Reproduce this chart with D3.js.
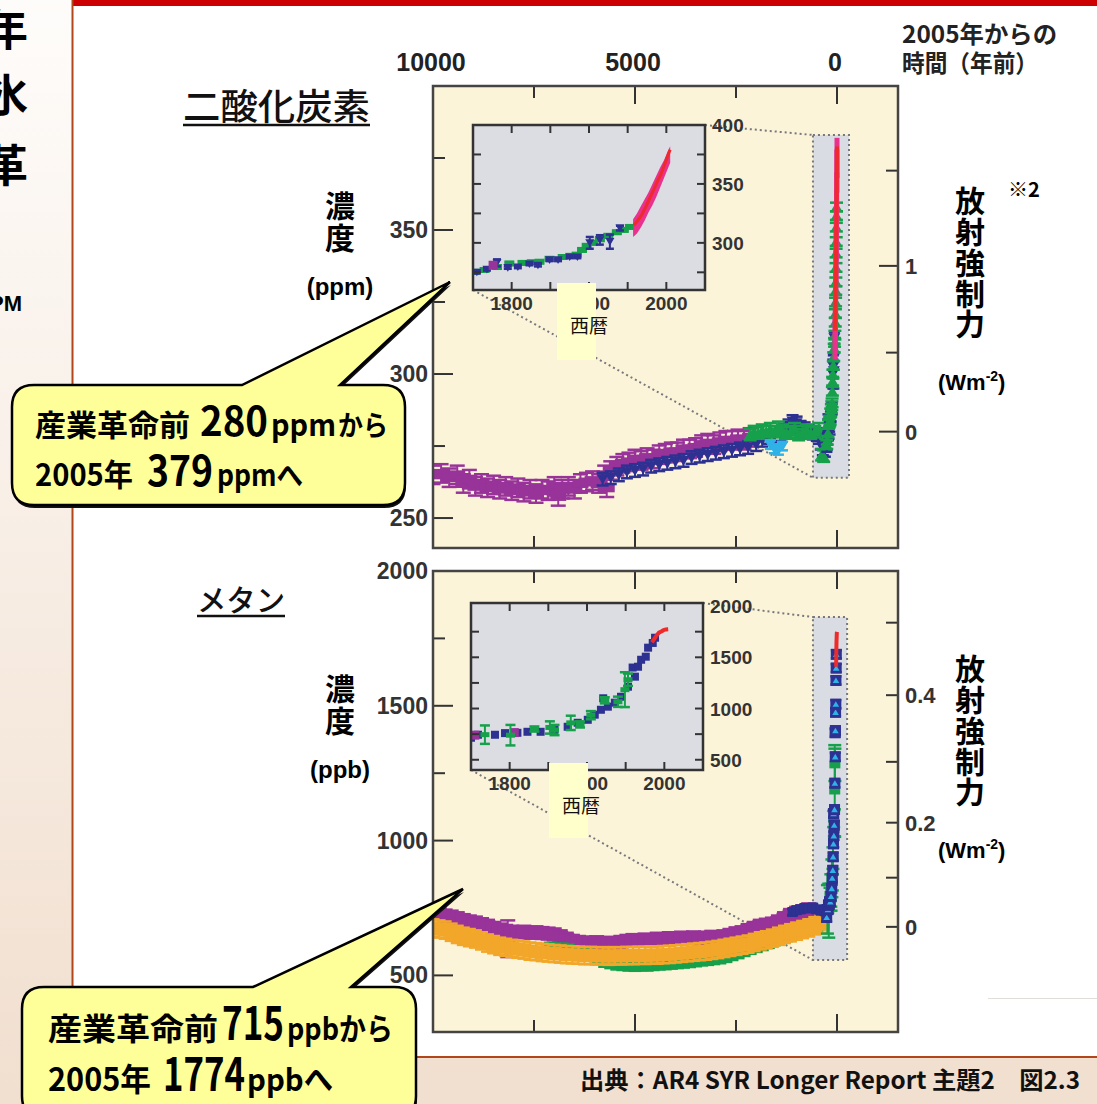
<!DOCTYPE html>
<html>
<head>
<meta charset="utf-8">
<script src="https://cdn.jsdelivr.net/npm/d3@7"></script>
<style>
  html, body { margin: 0; padding: 0; background: #fff; }
  svg { display: block; }
</style>
</head>
<body>
<svg id="chart" width="1097" height="1104"></svg>
<script>
// ---------- data: ice-core and atmospheric records ----------
// main panels: [years before 2005, value, optional error]
const co2Purple = [[10000,265],[9800,265.5],[9600,264],[9400,265],[9250,262],[9100,263.5],[8950,261],[8800,262],[8650,260.5],[8500,261.5],[8350,260],[8200,261],[8050,259.5],[7900,260.5],[7750,259],[7600,260],[7450,258.5],[7300,260],[7150,259.5],[7000,261],[6900,257.5],[6800,260],[6650,261],[6500,260],[6350,262],[6200,262.5],[6050,263],[5900,262],[5750,265],[5700,260.5],[5600,266.5],[5450,268],[5300,269],[5150,269.5],[5000,270.5],[4850,270],[4700,271],[4550,270.5],[4400,272],[4250,272.5],[4100,273],[3950,273],[3800,274],[3650,274],[3500,274.5],[3350,275.5],[3200,276],[3050,275.5],[2900,276.5],[2750,277],[2600,277],[2450,277.5],[2300,277],[2150,278]];
const co2Blue = [[5800,263.5],[5600,264],[5400,265],[5200,266],[5000,266.5],[4800,267],[4600,268],[4400,268.5],[4200,269],[4000,269.5],[3800,270],[3600,271],[3400,271.5],[3200,272],[3000,272.5],[2800,273],[2600,273.5],[2400,274],[2200,274.5],[2000,275.5],[1850,277],[1700,278],[1550,278.5],[1400,279],[1300,280.5],[1200,282],[1100,283.5],[1000,283],[900,281.5],[800,281],[700,280],[600,279.5],[500,279],[450,278],[400,276],[350,274],[300,273.5],[250,276]];
const co2Green = [[2150,279],[2050,280],[1950,279.5],[1850,280.5],[1750,280],[1650,281],[1550,280],[1450,281.5],[1350,280.5],[1250,279.5],[1150,280],[1050,281],[950,279],[850,280],[750,280.5],[650,279.5],[550,280],[450,281],[380,272],[330,271.5],[280,275.5]];
const co2Cyan = [[1650,275.5],[1550,274],[1450,273.5],[1350,275]];

const ch4Purple = [[10000,730],[9850,728],[9700,722],[9550,718],[9400,712],[9250,705],[9100,700],[8950,696],[8800,690],[8650,684],[8500,676],[8350,670],[8200,665],[8150,636,68],[8050,662],[7900,660],[7750,662],[7600,658],[7450,660],[7300,657],[7150,655],[7000,652],[6850,645],[6700,636],[6550,628],[6400,624],[6250,622],[6100,620],[5950,623],[5800,618],[5650,621],[5500,619],[5350,624],[5200,628],[5050,631],[4900,629],[4750,633],[4600,630],[4450,636],[4300,634],[4150,638],[4000,636],[3850,640],[3700,638],[3550,641],[3400,637],[3250,640],[3100,643],[2950,641],[2800,645],[2650,650],[2500,656],[2350,660],[2200,668],[2050,676],[1900,684],[1750,688],[1600,692],[1450,700],[1300,712],[1150,724],[1000,732],[850,738],[700,745]];
const ch4Orange = [[10000,676],[9850,672],[9700,668],[9550,660],[9400,652],[9250,645],[9100,640],[8950,635],[8800,628],[8650,620],[8500,614],[8350,608],[8200,604],[8050,600],[7900,597],[7750,594],[7600,590],[7450,588],[7300,585],[7150,583],[7000,581],[6850,579],[6700,577],[6550,576],[6400,575],[6250,573],[6100,574],[5950,572],[5800,573],[5650,571],[5500,573],[5350,572],[5200,574],[5050,573],[4900,575],[4750,574],[4600,576],[4450,575],[4300,577],[4150,578],[4000,580],[3850,582],[3700,584],[3550,586],[3400,588],[3250,590],[3100,593],[2950,596],[2800,600],[2650,604],[2500,608],[2350,612],[2200,616],[2050,622],[1900,628],[1750,632],[1600,638],[1450,645],[1300,652],[1150,658],[1000,664],[850,670],[700,676],[550,684],[400,690]];
const ch4Green = [[7100,603],[6950,598],[6800,600],[6650,596],[6500,590],[6350,585],[6200,580],[6050,572],[5900,560],[5750,550],[5600,545],[5450,540],[5300,538],[5150,536],[5000,535],[4850,537],[4700,536],[4550,538],[4400,540],[4250,541],[4100,543],[3950,545],[3800,547],[3650,549],[3500,552],[3350,555],[3200,557],[3050,560],[2900,563],[2750,568],[2600,575],[2450,582],[2300,590],[2150,598],[2000,605],[1850,612],[1700,620],[1550,630],[1400,638],[1250,645],[1100,652],[950,660],[800,668],[650,676],[500,684],[350,690]];
const ch4Blue = [[1100,735],[1000,742],[900,745],[800,750],[700,748],[600,752],[500,745],[400,740],[300,738]];

// insets and recent records: [calendar year, value, optional error]
const co2InsetGreen = [[1752,275.5],[1765,277],[1781,279.5],[1797,282.5],[1814,283],[1826,283.5],[1836,284],[1849,286.5],[1866,288],[1876,289],[1884,290],[1891,294],[1897,297.5],[1905,300],[1914,303],[1925,306],[1936,309],[1945,311],[1953,313.5]];
const co2InsetBlue = [[1755,275],[1768,277.5],[1781,283,3],[1795,279],[1808,279.5],[1823,282],[1834,281],[1849,285.5],[1860,285.5],[1875,288],[1885,288],[1901,300,5],[1914,302.5,4],[1927,301,6],[1940,312.5,2]];
const co2InsetPurple = [[1776,281]];
const co2Firn = [[1962,318],[1966,321],[1970,325],[1974,329],[1977,332],[1980,337],[1983,342],[1986,346],[1989,351],[1991,355],[1993,358]];
const co2Atmos = [[1958,315],[1963,319],[1968,323.5],[1973,330],[1978,337],[1983,344],[1988,351.5],[1993,358],[1998,367],[2003,376],[2005,379]];
const co2AtmosRange = [[1957,305,320],[1962,308,325],[1967,313,331],[1972,319,337],[1977,326,343],[1982,332,350],[1987,339,357],[1992,347,364],[1997,355,370],[2002,363,378],[2005,368,382]];

const ch4InsetBlue = [[1750,715],[1759,744],[1781,744],[1794,760],[1810,763],[1823,773],[1840,773],[1858,793],[1875,822],[1888,861],[1901,890],[1910,940],[1918,988],[1921,1100],[1927,1018],[1936,1057],[1944,1115],[1953,1213],[1959,1400],[1962,1311],[1966,1408],[1970,1476],[1976,1506],[1979,1594],[1985,1640],[1988,1691]];
const ch4InsetGreen = [[1768,745,90],[1801,740,100],[1832,800,25],[1852,815,60],[1858,790,50],[1879,860,70],[1891,845,30],[1905,935,40],[1923,1080,30],[1940,1066,50],[1949,1184,170],[1953,1281,60]];
const ch4InsetPurple = [[1755,740],[1806,765]];
const ch4Atmos = [[1984,1645],[1987,1680],[1990,1714],[1993,1740],[1996,1752],[1999,1765],[2002,1772],[2005,1774]];

// ---------- axis ticks and labels ----------
const refYear = 2005;
const ageTicks = [7500, 5000, 2500, 0];
const ageLabels = [10000, 5000, 0];
const co2Ticks = [250, 275, 300, 325, 350, 375];
const co2Labels = [250, 300, 350];
const co2ForcingTicks = [0, 0.5, 1, 1.5];
const co2ForcingLabels = [0, 1];
const ch4Ticks = [500, 750, 1000, 1250, 1500, 1750];
const ch4Labels = [500, 1000, 1500, 2000];
const ch4ForcingTicks = [0, 0.1, 0.2, 0.3, 0.4, 0.5];
const ch4ForcingLabels = [0, 0.2, 0.4];
const insetYearTicks = [1800, 1850, 1900, 1950, 2000];
const insetYearLabels = [1800, 1900, 2000];
const co2InsetTicks = [275, 300, 325, 350, 375];
const co2InsetLabels = [300, 350, 400];
const ch4InsetTicks = [500, 750, 1000, 1250, 1500, 1750];
const ch4InsetLabels = [500, 1000, 1500, 2000];

// ---------- palette ----------
const C = {
  purple: '#98339a', blue: '#2c3192', green: '#17a04c', cyan: '#2fb2e8',
  orange: '#f2a72a', red: '#ee2a2a', pink: '#e9318d',
  cream: '#fcf4d8', insetBg: '#dcdde2', boxBg: '#d9dce3', axis: '#333'
};
const JP = '"Noto Sans CJK JP", sans-serif';
const LAT = '"Liberation Sans", Arial, sans-serif';

const svg = d3.select('#chart');
const defs = svg.append('defs');

// ---------- slide background ----------
const grad = defs.append('linearGradient').attr('id', 'side')
  .attr('x1', 0).attr('y1', 0).attr('x2', 0).attr('y2', 1);
grad.append('stop').attr('offset', '0%').attr('stop-color', '#fefcfa');
grad.append('stop').attr('offset', '100%').attr('stop-color', '#f1dfcf');
svg.append('rect').attr('width', 1097).attr('height', 1104).attr('fill', '#fff');
svg.append('rect').attr('x', 0).attr('y', 0).attr('width', 72).attr('height', 1104).attr('fill', 'url(#side)');
svg.append('rect').attr('x', 72).attr('y', 1057).attr('width', 1025).attr('height', 47).attr('fill', '#f1dfcf');
svg.append('rect').attr('x', 72).attr('y', 0).attr('width', 1025).attr('height', 6).attr('fill', '#cc0000');
svg.append('line').attr('x1', 72.5).attr('x2', 72.5).attr('y1', 0).attr('y2', 1057).attr('stroke', '#b0461a').attr('stroke-width', 2);
svg.append('line').attr('x1', 72).attr('x2', 1097).attr('y1', 1057).attr('y2', 1057).attr('stroke', '#b0461a').attr('stroke-width', 2);
svg.append('line').attr('x1', 988).attr('x2', 1097).attr('y1', 998.5).attr('y2', 998.5).attr('stroke', '#e2ddd8').attr('stroke-width', 1);

function txt(parent, x, y, s, o = {}) {
  const t = parent.append('text').attr('x', x).attr('y', y).text(s)
    .attr('font-family', o.family || LAT)
    .attr('font-size', o.size || 20)
    .attr('font-weight', o.weight || 'normal')
    .attr('fill', o.fill || '#000')
    .attr('text-anchor', o.anchor || 'start');
  if (o.len) t.attr('textLength', o.len).attr('lengthAdjust', 'spacingAndGlyphs');
  return t;
}
// one text element holding several positioned runs: [x0, x1, baseline, string, size]
function runs(parent, segs, o = {}) {
  const t = parent.append('text').attr('font-family', o.family || JP)
    .attr('font-weight', o.weight || 'bold').attr('fill', o.fill || '#000');
  segs.forEach(sg => t.append('tspan').attr('x', sg[0]).attr('y', sg[2])
    .attr('font-size', sg[4]).attr('textLength', sg[1] - sg[0])
    .attr('lengthAdjust', 'spacingAndGlyphs').text(sg[3]));
  return t;
}
// a column of upright Japanese characters, top at y
function vtxt(parent, x, y, s, size, len) {
  const t = parent.append('text').attr('x', x).attr('y', y).text(s)
    .attr('font-family', JP).attr('font-size', size).attr('font-weight', 'bold')
    .style('writing-mode', 'vertical-rl').style('text-orientation', 'upright');
  if (len) t.attr('textLength', len).attr('lengthAdjust', 'spacing');
  return t;
}

// partially visible side-slide text
txt(svg, 28, 46, '年', { family: JP, size: 44, weight: 'bold', anchor: 'end' });
txt(svg, 28, 112, '氷', { family: JP, size: 44, weight: 'bold', anchor: 'end' });
txt(svg, 28, 182, '革', { family: JP, size: 44, weight: 'bold', anchor: 'end' });
txt(svg, 22, 311, 'PPM', { size: 22, weight: 'bold', anchor: 'end' });

// ---------- scales ----------
const xAge = d3.scaleLinear().domain([10000, -1510]).range([433, 898]);
const yCO2 = d3.scaleLinear().domain([239.6, 400]).range([548, 86]);
const yCH4 = d3.scaleLinear().domain([290, 2000]).range([1032, 571]);
const co2FromForcing = f => 280 * Math.exp(f / 5.35);
const ch4FromForcing = f => Math.pow(Math.sqrt(680) + f / 0.0304, 2);

const xInCO2 = d3.scaleLinear().domain([1750, 2050]).range([473, 705]);
const yInCO2 = d3.scaleLinear().domain([260, 400]).range([290, 125]);
const xInCH4 = d3.scaleLinear().domain([1750, 2050]).range([471, 703]);
const yInCH4 = d3.scaleLinear().domain([400, 2030]).range([770, 603]);

const toAge = d => [refYear - d[0], d[1], d[2]];

// ---------- marker drawing ----------
function plotSeries(g, rows, xf, yf, s) {
  const gg = g.append('g').attr('fill', s.color).attr('stroke', s.color);
  const pts = gg.selectAll('g').data(rows).join('g');
  pts.each(function (d) {
    const node = d3.select(this);
    const cx = xf(d[0]), cy = yf(d[1]);
    const e = d[2] !== undefined ? d[2] : s.err;
    if (e > 0) {
      const a = yf(d[1] + e), b = yf(d[1] - e);
      node.append('line').attr('x1', cx).attr('x2', cx).attr('y1', a).attr('y2', b).attr('stroke-width', s.lw || 2);
      [a, b].forEach(yy => node.append('line')
        .attr('x1', cx - s.cap / 2).attr('x2', cx + s.cap / 2).attr('y1', yy).attr('y2', yy)
        .attr('stroke-width', s.capW || 2.5));
    }
    const k = s.size || 4;
    if (s.shape === 'bar') {
      node.append('rect').attr('x', cx - s.w / 2).attr('y', cy - s.h / 2)
        .attr('width', s.w).attr('height', s.h).attr('stroke', 'none');
    } else if (s.shape === 'sq') {
      node.append('rect').attr('x', cx - k).attr('y', cy - k).attr('width', 2 * k).attr('height', 2 * k).attr('stroke', 'none');
    } else if (s.shape === 'tdown') {
      node.append('path').attr('stroke', 'none')
        .attr('d', `M${cx - k},${cy - k * 0.8}L${cx + k},${cy - k * 0.8}L${cx},${cy + k * 0.9}Z`);
    } else if (s.shape === 'tup') {
      node.append('path').attr('stroke', 'none')
        .attr('d', `M${cx - k},${cy + k * 0.8}L${cx + k},${cy + k * 0.8}L${cx},${cy - k * 0.9}Z`);
    }
    if (s.inner) {
      const m = k * 0.6;
      node.append('path').attr('stroke', 'none').attr('fill', s.inner)
        .attr('d', `M${cx - m},${cy + m * 0.8}L${cx + m},${cy + m * 0.8}L${cx},${cy - m * 0.9}Z`);
    }
  });
}

// ---------- main panel ----------
function mainPanel(cfg) {
  const { y0, y1, yScale } = cfg;
  const x0 = 433, x1 = 898;
  const g = svg.append('g');
  g.append('rect').attr('x', x0).attr('y', y0).attr('width', x1 - x0).attr('height', y1 - y0).attr('fill', C.cream);

  const clipId = 'clip' + y0;
  defs.append('clipPath').attr('id', clipId).append('rect')
    .attr('x', x0).attr('y', y0).attr('width', x1 - x0).attr('height', y1 - y0);

  // magnified window and its connectors to the inset
  const bx0 = xAge(cfg.box.t0), bx1 = xAge(cfg.box.t1);
  const by0 = yScale(cfg.box.v1), by1 = yScale(cfg.box.v0);
  const ins = cfg.inset;
  const dotted = sel => sel.attr('stroke', '#77787c').attr('stroke-width', 2).attr('stroke-dasharray', '2,3').attr('fill', 'none');
  g.append('line').attr('x1', ins.x1).attr('y1', ins.y0).attr('x2', bx0).attr('y2', by0).call(dotted);
  g.append('line').attr('x1', ins.x0).attr('y1', ins.y1).attr('x2', bx0).attr('y2', by1).call(dotted);
  g.append('rect').attr('x', bx0).attr('y', by0).attr('width', bx1 - bx0).attr('height', by1 - by0)
    .call(dotted).attr('fill', C.boxBg);

  const dg = g.append('g').attr('clip-path', `url(#${clipId})`);
  cfg.drawData(dg);

  // ticks
  const tk = g.append('g').attr('stroke', C.axis).attr('stroke-width', 2);
  ageTicks.forEach(t => {
    const x = xAge(t), len = t % 5000 === 0 ? 18 : 12;
    tk.append('line').attr('x1', x).attr('x2', x).attr('y1', y0).attr('y2', y0 + len);
    tk.append('line').attr('x1', x).attr('x2', x).attr('y1', y1).attr('y2', y1 - len);
  });
  cfg.leftTicks.forEach(v => {
    const y = yScale(v), len = cfg.leftLabels.includes(v) ? 20 : 12;
    tk.append('line').attr('x1', x0).attr('x2', x0 + len).attr('y1', y).attr('y2', y);
  });
  cfg.rightTicks.forEach(f => {
    const y = yScale(cfg.fromForcing(f));
    const len = cfg.rightLong && cfg.rightLabels.includes(f) ? 19 : 12;
    tk.append('line').attr('x1', x1 - len).attr('x2', x1).attr('y1', y).attr('y2', y);
  });

  // labels
  cfg.leftLabels.forEach(v => txt(g, 428, yScale(v) + 8, String(v),
    { size: 23, weight: 'bold', fill: '#333', anchor: 'end' }));
  cfg.rightLabels.forEach(f => txt(g, 905, yScale(cfg.fromForcing(f)) + 8, String(f),
    { size: 22, weight: 'bold', fill: '#333' }));

  // frame
  g.append('rect').attr('x', x0).attr('y', y0).attr('width', x1 - x0).attr('height', y1 - y0)
    .attr('fill', 'none').attr('stroke', '#444').attr('stroke-width', 2.5);
  return g;
}

// ---------- inset panel ----------
function insetPanel(cfg) {
  const { x0, x1, y0, y1, xs, ys } = cfg;
  const g = svg.append('g');
  g.append('rect').attr('x', x0).attr('y', y0).attr('width', x1 - x0).attr('height', y1 - y0).attr('fill', C.insetBg);
  const clipId = 'iclip' + y0;
  defs.append('clipPath').attr('id', clipId).append('rect')
    .attr('x', x0).attr('y', y0).attr('width', x1 - x0).attr('height', y1 - y0);
  cfg.drawData(g.append('g').attr('clip-path', `url(#${clipId})`));

  const tk = g.append('g').attr('stroke', C.axis).attr('stroke-width', 2);
  insetYearTicks.forEach(t => {
    const x = xs(t);
    tk.append('line').attr('x1', x).attr('x2', x).attr('y1', y0).attr('y2', y0 + 8);
    tk.append('line').attr('x1', x).attr('x2', x).attr('y1', y1).attr('y2', y1 - 8);
  });
  cfg.yTicks.forEach(v => {
    const y = ys(v);
    tk.append('line').attr('x1', x0).attr('x2', x0 + 8).attr('y1', y).attr('y2', y);
    tk.append('line').attr('x1', x1).attr('x2', x1 - 8).attr('y1', y).attr('y2', y);
  });
  g.append('rect').attr('x', x0).attr('y', y0).attr('width', x1 - x0).attr('height', y1 - y0)
    .attr('fill', 'none').attr('stroke', '#333').attr('stroke-width', 2.5);

  insetYearLabels.forEach(t => txt(g, xs(t), y1 + 20, String(t),
    { size: 19, weight: 'bold', fill: '#333', anchor: 'middle' }));
  cfg.yLabels.forEach(v => txt(g, x1 + 7, Math.max(ys(v), y0) + 7, String(v),
    { size: 19, weight: 'bold', fill: '#333' }));

  // calendar-year caption box
  g.append('rect').attr('x', cfg.cap.x).attr('y', y1 - 7).attr('width', 39).attr('height', cfg.cap.h).attr('fill', '#ffffcc');
  txt(g, cfg.cap.x + 13, y1 + 43, '西暦', { family: JP, size: 19, fill: '#111' });
  return g;
}

// ---------- styles ----------
const S = {
  co2Purple: { color: C.purple, shape: 'bar', w: 16, h: 9, err: 3.2, cap: 15 },
  co2Blue: { color: C.blue, shape: 'tdown', size: 6, err: 2.2, cap: 12 },
  co2Green: { color: C.green, shape: 'tup', size: 6, err: 2, cap: 13 },
  co2Cyan: { color: C.cyan, shape: 'tdown', size: 6, err: 1.5, cap: 11 },
  co2SpikeGreen: { color: C.green, shape: 'tup', size: 6, err: 1.5, cap: 13 },
  co2SpikeBlue: { color: C.blue, shape: 'tdown', size: 6, err: 2, cap: 11 },
  co2InGreen: { color: C.green, shape: 'bar', w: 10, h: 6, err: 1.2, cap: 9 },
  co2InBlue: { color: C.blue, shape: 'tdown', size: 4.5, err: 1, cap: 8 },
  co2InPurple: { color: C.purple, shape: 'sq', size: 4.5, err: 0, cap: 0 },
  ch4Purple: { color: C.purple, shape: 'bar', w: 16, h: 11, err: 22, cap: 15 },
  ch4Orange: { color: C.orange, shape: 'bar', w: 15, h: 13, err: 32, cap: 13 },
  ch4Green: { color: C.green, shape: 'bar', w: 13, h: 8, err: 18, cap: 13 },
  ch4Blue: { color: C.blue, shape: 'sq', size: 5, err: 12, cap: 11 },
  ch4SpikeBlue: { color: C.blue, shape: 'sq', size: 5.5, err: 15, cap: 11, inner: C.cyan },
  ch4SpikeGreen: { color: C.green, shape: 'bar', w: 11, h: 7, err: 22, cap: 13 },
  ch4InBlue: { color: C.blue, shape: 'sq', size: 4, err: 0, cap: 0 },
  ch4InGreen: { color: C.green, shape: 'bar', w: 9, h: 5, err: 20, cap: 10 },
  ch4InPurple: { color: C.purple, shape: 'sq', size: 4.5, err: 0, cap: 0 }
};

// ---------- CO2 ----------
const co2InsetBox = { x0: 473, x1: 705, y0: 125, y1: 290 };
mainPanel({
  y0: 86, y1: 548, yScale: yCO2,
  box: { t0: 595, t1: -297, v0: 264, v1: 383 },
  inset: co2InsetBox,
  leftTicks: co2Ticks, leftLabels: co2Labels,
  rightTicks: co2ForcingTicks, rightLabels: co2ForcingLabels, rightLong: true,
  fromForcing: co2FromForcing,
  drawData: g => {
    plotSeries(g, co2Purple, xAge, yCO2, S.co2Purple);
    plotSeries(g, co2Blue, xAge, yCO2, S.co2Blue);
    plotSeries(g, co2Green, xAge, yCO2, S.co2Green);
    plotSeries(g, co2Cyan, xAge, yCO2, S.co2Cyan);
    plotSeries(g, co2InsetBlue.map(toAge), xAge, yCO2, S.co2SpikeBlue);
    plotSeries(g, co2InsetGreen.map(toAge), xAge, yCO2, S.co2SpikeGreen);
    plotSeries(g, co2Firn.map(toAge), xAge, yCO2, S.co2SpikeGreen);
    g.append('g').selectAll('line').data(co2AtmosRange).join('line')
      .attr('x1', d => xAge(refYear - d[0])).attr('x2', d => xAge(refYear - d[0]))
      .attr('y1', d => yCO2(d[1])).attr('y2', d => yCO2(d[2]))
      .attr('stroke', C.pink).attr('stroke-width', 5);
    g.append('path').datum(co2Atmos)
      .attr('d', d3.line().x(d => xAge(refYear - d[0])).y(d => yCO2(d[1])))
      .attr('fill', 'none').attr('stroke', C.red).attr('stroke-width', 4);
  }
});
insetPanel({
  ...co2InsetBox, xs: xInCO2, ys: yInCO2,
  yTicks: co2InsetTicks, yLabels: co2InsetLabels,
  cap: { x: 557, h: 77 },
  drawData: g => {
    plotSeries(g, co2InsetGreen, xInCO2, yInCO2, S.co2InGreen);
    plotSeries(g, co2InsetBlue, xInCO2, yInCO2, S.co2InBlue);
    plotSeries(g, co2InsetPurple, xInCO2, yInCO2, S.co2InPurple);
    g.append('path').datum(co2AtmosRange)
      .attr('d', d3.area().x(d => xInCO2(d[0])).y0(d => yInCO2(d[1])).y1(d => yInCO2(d[2])))
      .attr('fill', C.pink);
    g.append('path').datum(co2Atmos)
      .attr('d', d3.line().x(d => xInCO2(d[0])).y(d => yInCO2(d[1])))
      .attr('fill', 'none').attr('stroke', C.red).attr('stroke-width', 3);
  }
});

// ---------- CH4 ----------
const ch4InsetBox = { x0: 471, x1: 703, y0: 603, y1: 770 };
mainPanel({
  y0: 571, y1: 1032, yScale: yCH4,
  box: { t0: 595, t1: -250, v0: 557, v1: 1829 },
  inset: ch4InsetBox,
  leftTicks: ch4Ticks, leftLabels: ch4Labels,
  rightTicks: ch4ForcingTicks, rightLabels: ch4ForcingLabels, rightLong: false,
  fromForcing: ch4FromForcing,
  drawData: g => {
    plotSeries(g, ch4Purple, xAge, yCH4, S.ch4Purple);
    plotSeries(g, ch4Green, xAge, yCH4, S.ch4Green);
    plotSeries(g, ch4Orange, xAge, yCH4, S.ch4Orange);
    plotSeries(g, ch4Blue, xAge, yCH4, S.ch4Blue);
    plotSeries(g, ch4InsetGreen.map(toAge), xAge, yCH4, S.ch4SpikeGreen);
    plotSeries(g, ch4InsetBlue.map(toAge), xAge, yCH4, S.ch4SpikeBlue);
    g.append('path').datum(ch4Atmos)
      .attr('d', d3.line().x(d => xAge(refYear - d[0])).y(d => yCH4(d[1])))
      .attr('fill', 'none').attr('stroke', C.red).attr('stroke-width', 4);
  }
});
insetPanel({
  ...ch4InsetBox, xs: xInCH4, ys: yInCH4,
  yTicks: ch4InsetTicks, yLabels: ch4InsetLabels,
  cap: { x: 549, h: 75 },
  drawData: g => {
    plotSeries(g, ch4InsetBlue, xInCH4, yInCH4, S.ch4InBlue);
    plotSeries(g, ch4InsetPurple, xInCH4, yInCH4, S.ch4InPurple);
    plotSeries(g, ch4InsetGreen, xInCH4, yInCH4, S.ch4InGreen);
    g.append('path').datum(ch4Atmos)
      .attr('d', d3.line().x(d => xInCH4(d[0])).y(d => yInCH4(d[1])))
      .attr('fill', 'none').attr('stroke', C.red).attr('stroke-width', 4);
  }
});

// ---------- titles and axis captions ----------
ageLabels.forEach(t => txt(svg, xAge(t) - 2, 71, String(t), { size: 25, weight: 'bold', fill: '#222', anchor: 'middle' }));
runs(svg, [
  [902, 1057, 43, '2005年からの', 24],
  [902, 1038, 72, '時間（年前）', 24]
], { fill: '#222' });

function title(label, x, y, w, size) {
  txt(svg, x, y, label, { family: JP, size, weight: 500, fill: '#111', len: w });
  svg.append('line').attr('x1', x).attr('x2', x + w).attr('y1', y + 5).attr('y2', y + 5)
    .attr('stroke', '#111').attr('stroke-width', 2.5);
}
title('二酸化炭素', 183, 120, 187, 36);
title('メタン', 197, 611, 88, 30);

function concLabel(y, unit) {
  vtxt(svg, 340, y, '濃度', 30, 62);
  txt(svg, 340, y + 104, unit, { size: 24, weight: 'bold', anchor: 'middle' });
}
concLabel(191, '(ppm)');
concLabel(674, '(ppb)');

function forcingLabel(y, unitY) {
  vtxt(svg, 970, y, '放射強制力', 30, 153);
  const t = txt(svg, 938, unitY, '(Wm', { size: 22, weight: 'bold' });
  t.append('tspan').attr('font-size', 14).attr('dy', -9).text('-2');
  t.append('tspan').attr('dy', 9).text(')');
}
forcingLabel(186, 390);
forcingLabel(654, 858);
txt(svg, 1008, 197, '※2', { family: JP, size: 20, weight: 'bold' });

// ---------- callouts ----------
function callout(box, tail, segs) {
  const { x0, y0, x1, y1 } = box, r = 22;
  const [b0, b1, tx, ty] = tail;
  const p = `M${x0 + r},${y0}L${b0},${y0}L${tx},${ty}L${b1},${y0}L${x1 - r},${y0}` +
    `Q${x1},${y0} ${x1},${y0 + r}L${x1},${y1 - r}Q${x1},${y1} ${x1 - r},${y1}` +
    `L${x0 + r},${y1}Q${x0},${y1} ${x0},${y1 - r}L${x0},${y0 + r}Q${x0},${y0} ${x0 + r},${y0}Z`;
  const g = svg.append('g');
  g.append('path').attr('d', p).attr('transform', 'translate(1,3)').attr('fill', '#111');
  g.append('path').attr('d', p).attr('fill', '#ffff99').attr('stroke', '#000').attr('stroke-width', 2.5);
  runs(g, segs);
}
callout({ x0: 12, y0: 385, x1: 405, y1: 505 }, [242, 340, 450, 282], [
  [35, 190, 436, '産業革命前', 30],
  [200, 268, 436, '280', 40],
  [271, 336, 436, 'ppm', 30],
  [338, 388, 436, 'から', 28],
  [35, 133, 486, '2005年', 31],
  [147, 213, 486, '379', 42],
  [217, 303, 486, 'ppmへ', 30]
]);
callout({ x0: 22, y0: 987, x1: 416, y1: 1118 }, [253, 351, 463, 889], [
  [48, 218, 1040, '産業革命前', 31],
  [222, 284, 1040, '715', 46],
  [287, 393, 1040, 'ppbから', 31],
  [48, 151, 1091, '2005年', 32],
  [163, 245, 1091, '1774', 46],
  [247, 333, 1091, 'ppbへ', 31]
]);

// ---------- source ----------
txt(svg, 580, 1089, '出典：AR4 SYR Longer Report 主題2　図2.3', { family: JP, size: 24, weight: 'bold', fill: '#111', len: 500 });
</script>
</body>
</html>
